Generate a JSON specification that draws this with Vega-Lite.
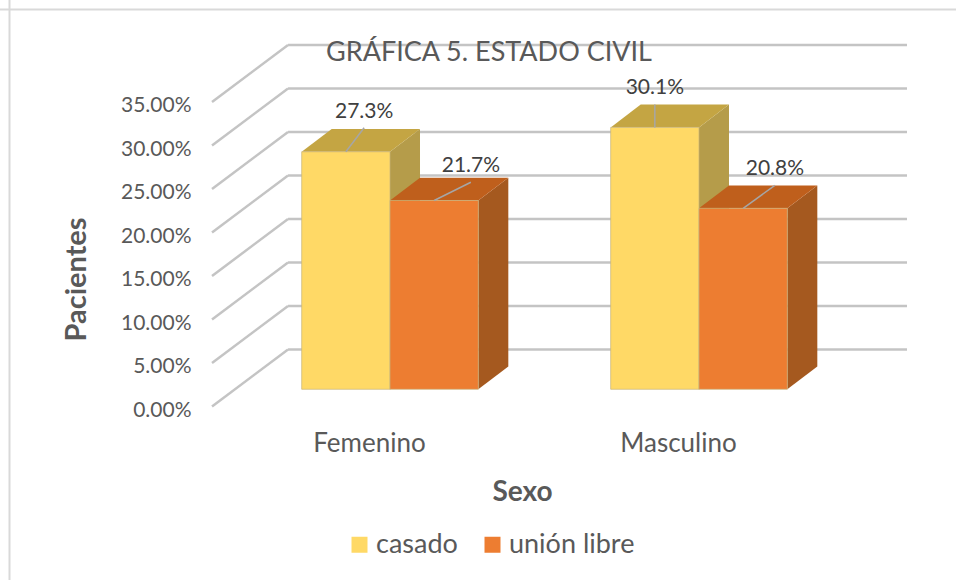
{
"$schema":"https://vega.github.io/schema/vega-lite/v6.json",
"width":956,"height":580,"padding":0,"autosize":{"type":"none"},
"background":"white",
"config":{"view":{"stroke":null},"font":"Lato"},
"title":{"text":"GRÁFICA 5. ESTADO CIVIL","font":"Lato","fontSize":27,"fontWeight":"normal","color":"#595959","anchor":"middle","dx":11,"offset":-68},
"datasets":{
"bars":[
{"sexo":"Femenino","estado":"casado","valor":0.273},
{"sexo":"Femenino","estado":"unión libre","valor":0.217},
{"sexo":"Masculino","estado":"casado","valor":0.301},
{"sexo":"Masculino","estado":"unión libre","valor":0.208}],
"ticks":[{"t":0},{"t":0.05},{"t":0.1},{"t":0.15},{"t":0.2},{"t":0.25},{"t":0.3},{"t":0.35}]
},
"layer":[
{"data":{"name":"ticks"},
 "transform":[{"calculate":"datum.t+0.0655","as":"t2"},{"calculate":"-0.076","as":"a"},{"calculate":"0.17","as":"b"}],
 "mark":{"type":"rule","stroke":"#c4c4c4","strokeWidth":2.5},
 "encoding":{
  "x":{"field":"a","type":"quantitative","scale":{"domain":[-0.76214,2.33172],"nice":false,"zero":false},
   "axis":{"values":[0.5,1.5],"labelExpr":"datum.value<1?'Femenino':'Masculino'","grid":false,"ticks":false,"domain":false,"orient":"bottom","offset":-150,"labelPadding":0,"labelOffset":-21,"labelFont":"Lato","labelFontSize":26,"labelColor":"#595959","title":"Sexo","titleFont":"Lato","titleFontSize":28,"titleFontWeight":"bold","titleColor":"#595959","titleX":522,"titleY":48}},
  "x2":{"field":"b"},
  "y":{"field":"t","type":"quantitative","scale":{"domain":[-0.19943,0.46724],"nice":false,"zero":false},
   "axis":{"values":[0,0.05,0.1,0.15,0.2,0.25,0.3,0.35],"format":".2%","grid":false,"ticks":false,"domain":false,"orient":"left","offset":-191,"labelPadding":0,"labelOffset":4,"labelFont":"Lato","labelFontSize":21,"labelColor":"#595959","title":"Pacientes","titleFont":"Lato","titleFontSize":29,"titleFontWeight":"bold","titleColor":"#595959","titleX":-100,"titleY":279}},
  "y2":{"field":"t2"}}},
{"data":{"name":"ticks"},
 "transform":[{"calculate":"datum.t+0.0655","as":"t2"},{"calculate":"0.17","as":"b"},{"calculate":"2.1731","as":"c"}],
 "mark":{"type":"rule","stroke":"#c4c4c4","strokeWidth":2.5},
 "encoding":{
  "x":{"field":"b","type":"quantitative"},"x2":{"field":"c"},
  "y":{"field":"t2","type":"quantitative"}}},
{"data":{"name":"bars"},
 "transform":[
  {"calculate":"indexof(['Femenino','Masculino'],datum.sexo)+0.5+(datum.estado==='casado'?0:0.2858)","as":"x1"},
  {"calculate":"datum.sexo+datum.estado","as":"id"},
  {"calculate":"[0,1]","as":"k"},{"flatten":["k"]},
  {"calculate":"datum.x1+datum.k*0.0971","as":"sx"},
  {"calculate":"datum.valor+0.0198+datum.k*0.0262","as":"sy"},
  {"calculate":"0.0198+datum.k*0.0262","as":"sy2"}],
 "mark":{"type":"area","orient":"vertical"},
 "encoding":{
  "x":{"field":"sx","type":"quantitative"},
  "y":{"field":"sy","type":"quantitative"},"y2":{"field":"sy2"},
  "detail":{"field":"id"},
  "color":{"condition":{"test":"datum.estado==='casado'","value":"#b59c4a"},"value":"#a5591f"}}},
{"data":{"name":"bars"},
 "transform":[
  {"calculate":"indexof(['Femenino','Masculino'],datum.sexo)+0.5+(datum.estado==='casado'?-0.2858:0)","as":"x0"},
  {"calculate":"datum.x0+0.2858","as":"x1"},
  {"calculate":"datum.sexo+datum.estado","as":"id"},
  {"calculate":"[0,1]","as":"k"},{"flatten":["k"]},
  {"calculate":"datum.x0+datum.k*0.0971","as":"tx"},
  {"calculate":"datum.x1+datum.k*0.0971","as":"tx2"},
  {"calculate":"datum.valor+0.0198+datum.k*0.0262","as":"ty"}],
 "mark":{"type":"area","orient":"horizontal"},
 "encoding":{
  "y":{"field":"ty","type":"quantitative"},
  "x":{"field":"tx","type":"quantitative"},"x2":{"field":"tx2"},
  "detail":{"field":"id"},
  "color":{"condition":{"test":"datum.estado==='casado'","value":"#c4a543"},"value":"#bf5f1c"}}},
{"data":{"name":"bars"},
 "transform":[
  {"calculate":"indexof(['Femenino','Masculino'],datum.sexo)+0.5+(datum.estado==='casado'?-0.2858:0)","as":"x0"},
  {"calculate":"datum.x0+0.2858","as":"x1"},
  {"calculate":"datum.valor+0.0198","as":"top"},
  {"calculate":"0.0198","as":"base"}],
 "mark":{"type":"rect","stroke":"#c8b47a","strokeWidth":1,"strokeOpacity":0.7},
 "encoding":{
  "x":{"field":"x0","type":"quantitative"},"x2":{"field":"x1"},
  "y":{"field":"top","type":"quantitative"},"y2":{"field":"base"},
  "color":{"field":"estado","type":"nominal","scale":{"domain":["casado","unión libre"],"range":["#ffd966","#ed7d31"]},
   "legend":{"title":null,"orient":"none","legendX":346,"legendY":531,"direction":"horizontal","columns":2,"columnPadding":21,"symbolType":"square","symbolSize":256,"symbolStrokeWidth":0,"symbolOpacity":1,"labelFont":"Lato","labelFontSize":27,"labelColor":"#595959","labelOffset":3}}}},
{"data":{"name":"bars"},
 "transform":[
  {"calculate":"indexof(['Femenino','Masculino'],datum.sexo)+0.5+(datum.estado==='casado'?-0.1429:0.1429)","as":"c"},
  {"calculate":"datum.sexo+datum.estado","as":"id"},
  {"calculate":"datum.c+{'Femeninocasado':0.0592,'Femeninounión libre':0.1188,'Masculinocasado':0,'Masculinounión libre':0.1026}[datum.id]","as":"ex"},
  {"calculate":"datum.valor+0.0198","as":"sy"},
  {"calculate":"datum.sy+{'Femeninocasado':0.0276,'Femeninounión libre':0.021,'Masculinocasado':0.0264,'Masculinounión libre':0.0264}[datum.id]","as":"ey"}],
 "mark":{"type":"rule","stroke":"#a6a6a6","strokeWidth":1.5},
 "encoding":{
  "x":{"field":"c","type":"quantitative"},"x2":{"field":"ex"},
  "y":{"field":"sy","type":"quantitative"},"y2":{"field":"ey"}}},
{"data":{"name":"bars"},
 "transform":[
  {"calculate":"indexof(['Femenino','Masculino'],datum.sexo)+0.5+(datum.estado==='casado'?-0.1429:0.1429)","as":"c"},
  {"calculate":"datum.sexo+datum.estado","as":"id"},
  {"calculate":"datum.c+{'Femeninocasado':0.0592,'Femeninounión libre':0.1188,'Masculinocasado':0,'Masculinounión libre':0.1026}[datum.id]","as":"ex"},
  {"calculate":"datum.valor+0.0198+{'Femeninocasado':0.0276,'Femeninounión libre':0.021,'Masculinocasado':0.0264,'Masculinounión libre':0.0264}[datum.id]","as":"ey"}],
 "mark":{"type":"text","font":"Lato","fontSize":21,"color":"#404040","baseline":"middle","dy":-16},
 "encoding":{
  "x":{"field":"ex","type":"quantitative"},
  "y":{"field":"ey","type":"quantitative"},
  "text":{"field":"valor","type":"quantitative","format":".1%"}}},
{"data":{"values":[{"f":-0.7314}]},
 "mark":{"type":"rule","stroke":"#d9d9d9","strokeWidth":2},
 "encoding":{"x":{"field":"f","type":"quantitative"}}},
{"data":{"values":[{"f":0.4563}]},
 "mark":{"type":"rule","stroke":"#d9d9d9","strokeWidth":2},
 "encoding":{"y":{"field":"f","type":"quantitative"}}}
]
}
